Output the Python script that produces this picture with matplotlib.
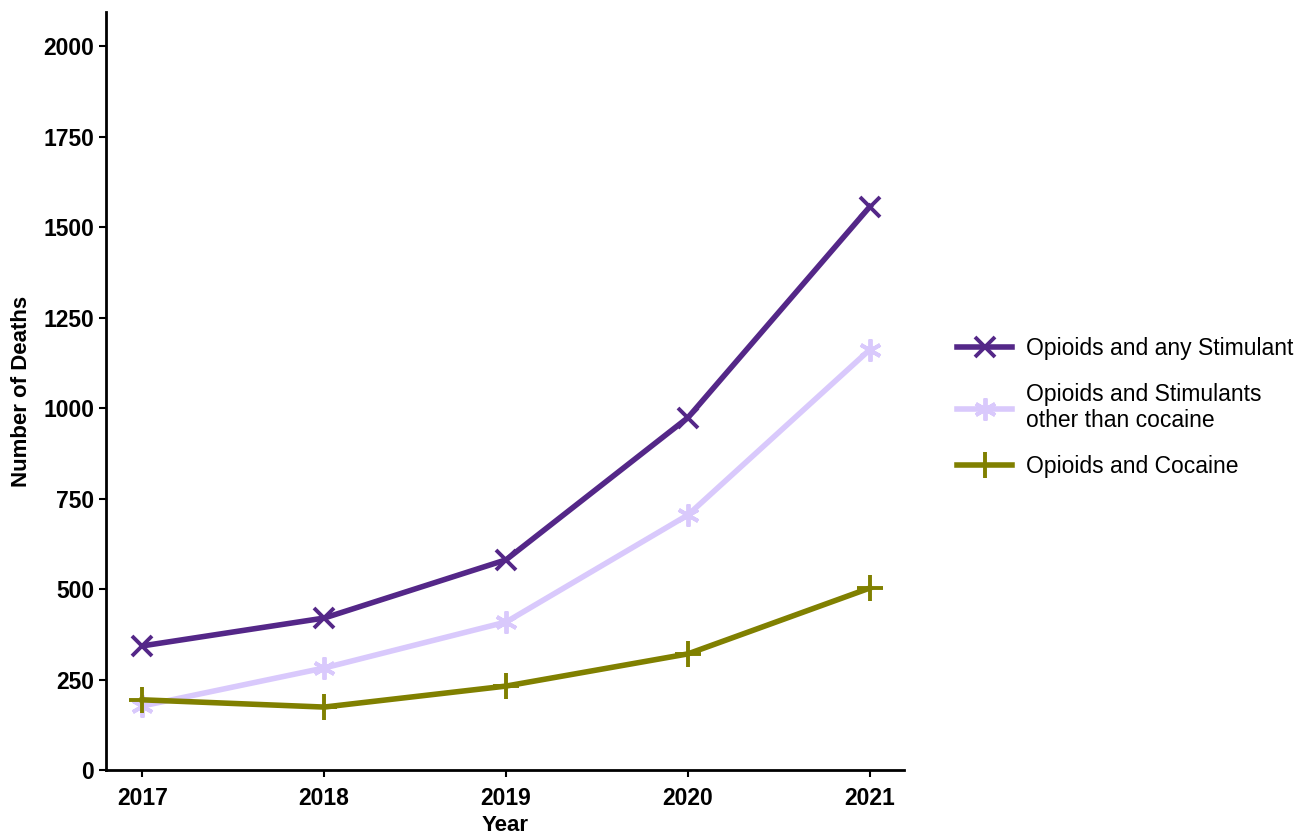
import matplotlib
matplotlib.use("Agg")
import matplotlib.pyplot as plt

years = [2017, 2018, 2019, 2020, 2021]
any_stimulant = [343, 420, 581, 974, 1557]
other_stimulants = [177, 282, 409, 705, 1162]
cocaine = [194, 174, 232, 321, 503]

plt.rcParams["font.family"] = ["Liberation Sans", "DejaVu Sans"]

fig = plt.figure(figsize=(13.07, 8.34), dpi=100)
ax = fig.add_axes([0.081, 0.0767, 0.611, 0.909])

ax.plot(years, any_stimulant, color="#542788", lw=4, marker="x", ms=15, mew=2.8,
        label="Opioids and any Stimulant")
ax.plot(years, other_stimulants, color="#d9c9fc", lw=4, marker=(6, 2, 0), ms=16, mew=2.8,
        label="Opioids and Stimulants\nother than cocaine")
ax.plot(years, cocaine, color="#808000", lw=4, marker="+", ms=19, mew=2.8,
        label="Opioids and Cocaine")

ax.set_xlim(2016.8, 2021.19)
ax.set_ylim(0, 2095)
ax.set_xticks(years)
ax.set_yticks(range(0, 2001, 250))
ax.spines["top"].set_visible(False)
ax.spines["right"].set_visible(False)
ax.spines["left"].set_linewidth(2)
ax.spines["bottom"].set_linewidth(2)
ax.tick_params(labelsize=16.5, width=1.5, length=5)
ax.tick_params(axis="x", pad=7)
for lab in ax.get_xticklabels() + ax.get_yticklabels():
    lab.set_fontweight("bold")

ax.set_xlabel("Year", fontsize=16, fontweight="bold", labelpad=4)
ax.set_ylabel("Number of Deaths", fontsize=16, fontweight="bold", labelpad=8)

ax.legend(loc="center left", bbox_to_anchor=(1.04, 0.478), frameon=False,
          fontsize=16.5, handlelength=2.4, handletextpad=0.6, labelspacing=1.0)

fig.savefig("out.png", dpi=100)
